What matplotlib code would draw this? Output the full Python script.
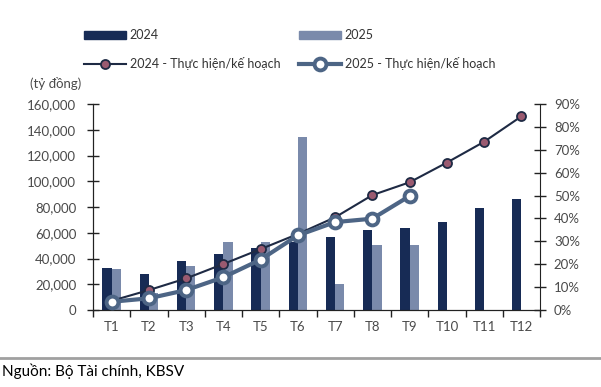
import matplotlib
matplotlib.use("Agg")
import matplotlib.pyplot as plt
import numpy as np
from matplotlib.ticker import FuncFormatter, FixedLocator
from matplotlib.lines import Line2D

plt.rcParams["font.family"] = ["Lato", "DejaVu Sans"]

months = ["T1", "T2", "T3", "T4", "T5", "T6", "T7", "T8", "T9", "T10", "T11", "T12"]
rev_2024 = [32900, 28200, 37800, 43500, 48200, 53000, 56900, 62100, 63400, 68600, 79000, 86200]
rev_2025 = [31600, 13000, 33900, 52800, 52800, 134100, 20000, 50700, 50700]
pct_2024 = [4.0, 8.7, 13.8, 20.1, 26.6, 33.2, 40.5, 50.2, 55.8, 64.4, 73.5, 84.6]
pct_2025 = [3.6, 5.1, 8.7, 14.3, 22.0, 32.6, 38.4, 39.9, 49.8]

c24 = "#172b55"
c25 = "#7a8aab"
line24 = "#1e2a44"
line25 = "#4d6585"
mauve = "#9a5a70"
txt = "#4a4a4a"

fig = plt.figure(figsize=(6.01, 3.87), dpi=100)
ax = fig.add_axes([93 / 601, 1 - 310 / 387, 447 / 601, 206 / 387])
ax2 = ax.twinx()

x = np.arange(len(months))
w = 0.245
ax.bar(x[:len(rev_2024)] - w / 2, rev_2024, w, color=c24, zorder=2)
ax.bar(x[:len(rev_2025)] + w / 2, rev_2025, w, color=c25, zorder=2)

ax2.plot(x[:len(pct_2024)], pct_2024, color=line24, lw=1.5, marker="o", ms=6.5,
         mfc=mauve, mec=line24, mew=1.3, zorder=3)
ax2.plot(x[:len(pct_2025)], pct_2025, color=line25, lw=3, marker="o", ms=8.5,
         mfc="white", mec=line25, mew=2.8, zorder=4)

ax.set_xlim(-0.5, len(months) - 0.5)
ax.set_ylim(0, 160000)
ax2.set_ylim(0, 90)
ax.set_yticks(np.arange(0, 160001, 20000))
ax2.set_yticks(np.arange(0, 91, 10))
ax.yaxis.set_major_formatter(FuncFormatter(lambda v, p: f"{int(v):,}"))
ax2.yaxis.set_major_formatter(FuncFormatter(lambda v, p: f"{int(v)}%"))

ax.set_xticks(x)
ax.set_xticklabels(months)
ax.xaxis.set_minor_locator(FixedLocator(np.arange(-0.5, len(months), 1.0)))
ax.tick_params(axis="x", which="major", length=0, pad=8, labelsize=9.5, colors=txt)
ax.tick_params(axis="x", which="minor", length=5, direction="out", width=1, color="#222222")
ax.tick_params(axis="y", direction="inout", length=8, width=1, pad=8,
               labelsize=9.5, labelcolor=txt, color="#222222")
ax2.tick_params(axis="y", direction="inout", length=8, width=1, pad=6,
                labelsize=9.5, labelcolor=txt, color="#222222")

for a in (ax, ax2):
    a.spines["top"].set_visible(False)
for s in ("left", "right", "bottom"):
    ax2.spines[s].set_color("#222222")
ax.spines["right"].set_visible(False)
ax.spines["left"].set_color("#222222")
ax.spines["bottom"].set_color("#222222")

fig.text(30 / 601, 1 - 84 / 387, "(tỷ đồng)", fontsize=9.5, color=txt, va="center")

handles = [
    plt.Rectangle((0, 0), 1, 1, color=c24),
    Line2D([], [], color=line24, lw=1.5, marker="o", ms=6.5, mfc=mauve, mec=line24, mew=1.3),
    plt.Rectangle((0, 0), 1, 1, color=c25),
    Line2D([], [], color=line25, lw=3, marker="o", ms=8.5, mfc="white", mec=line25, mew=2.8),
]
labels = ["2024", "2024 - Thực hiện/kế hoạch", "2025", "2025 - Thực hiện/kế hoạch"]
fig.legend(handles, labels, ncol=2, loc="upper left", bbox_to_anchor=(73 / 601, 1 - 18 / 387),
           frameon=False, fontsize=9, handlelength=3.35, handleheight=0.55, handletextpad=0.3,
           columnspacing=1.5, labelspacing=1.25, labelcolor="#333333")

fig.add_artist(Line2D([0, 1], [1 - 358 / 387] * 2, color="#a0a0a0", lw=2))
fig.text(2 / 601, 1 - 371 / 387, "Nguồn: Bộ Tài chính, KBSV", fontsize=11, color="black",
         va="center")

fig.savefig("out.png", dpi=100)
